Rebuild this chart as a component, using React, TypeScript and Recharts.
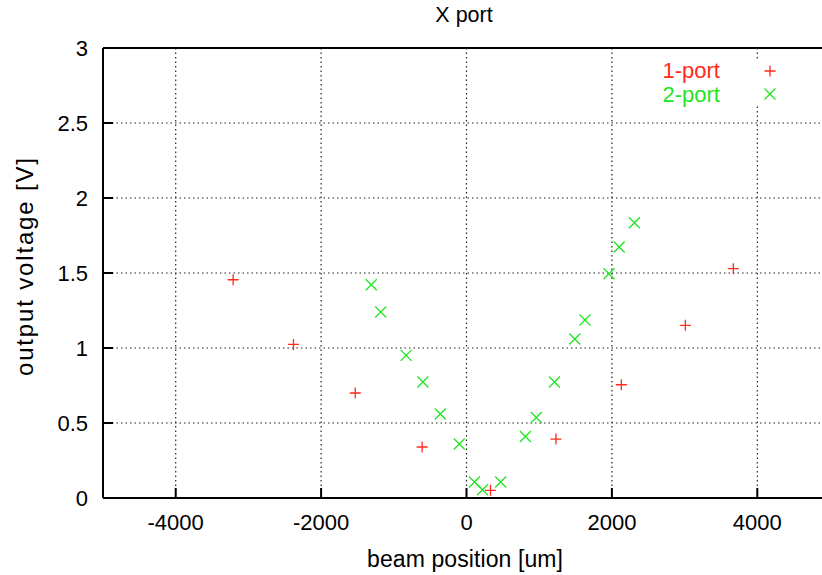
import { ScatterChart, Scatter, XAxis, YAxis, CartesianGrid } from "recharts";

// 1-port readings (beam position in um, output voltage in V)
const PORT1_X = [-3210, -2380, -1530, -610, 330, 1230, 2130, 3010, 3670];
const PORT1_Y = [1.455, 1.024, 0.70, 0.34, 0.051, 0.393, 0.755, 1.151, 1.529];

// 2-port readings
const PORT2_X = [-1310, -1180, -830, -600, -360, -100, 110, 220, 470, 810, 960, 1210, 1490, 1630, 1960, 2100, 2310];
const PORT2_Y = [1.422, 1.24, 0.951, 0.773, 0.56, 0.36, 0.107, 0.055, 0.107, 0.41, 0.537, 0.773, 1.06, 1.187, 1.495, 1.673, 1.835];

const X_TICKS = [-4000, -2000, 0, 2000, 4000];
const Y_TICKS = [0, 0.5, 1, 1.5, 2, 2.5, 3];

const RED = "#ff2a1a";
const GREEN = "#1ee61e";
const FONT = "'Liberation Sans', Arial, Helvetica, sans-serif";

const port1 = PORT1_X.map((x, i) => ({ x, y: PORT1_Y[i] }));
const port2 = PORT2_X.map((x, i) => ({ x, y: PORT2_Y[i] }));

function Plus(props: any) {
  const { cx, cy } = props;
  const r = 5.5;
  return (
    <path
      d={`M${cx - r},${cy}H${cx + r}M${cx},${cy - r}V${cy + r}`}
      stroke={RED}
      strokeWidth={1.3}
      fill="none"
    />
  );
}

function Cross(props: any) {
  const { cx, cy } = props;
  const r = 5.5;
  return (
    <path
      d={`M${cx - r},${cy - r}L${cx + r},${cy + r}M${cx - r},${cy + r}L${cx + r},${cy - r}`}
      stroke={GREEN}
      strokeWidth={1.3}
      fill="none"
    />
  );
}

const tickStyle = { fontSize: 22, fill: "#000", fontFamily: FONT };

export default function App() {
  return (
    <div
      style={{
        position: "absolute",
        left: 0,
        top: 0,
        width: 822,
        height: 575,
        overflow: "hidden",
        background: "#fff",
        fontFamily: FONT,
      }}
    >
      <ScatterChart width={840} height={575} margin={{ top: 0, right: 0, bottom: 0, left: 0 }}>
        <CartesianGrid stroke="#222" strokeDasharray="1.5 3" strokeWidth={1.2} />
        <XAxis
          type="number"
          dataKey="x"
          domain={[-5000, 5000]}
          ticks={X_TICKS}
          height={77}
          axisLine={{ stroke: "#000", strokeWidth: 2 }}
          tickLine={{ stroke: "#000", strokeWidth: 2 }}
          tickSize={-10}
          tickMargin={26}
          tick={tickStyle}
          label={{
            content: () => (
              <text
                x={465}
                y={567}
                textAnchor="middle"
                fontSize={23}
                fontFamily={FONT}
                fill="#000"
                textLength={196}
                lengthAdjust="spacing"
              >
                beam position [um]
              </text>
            ),
          }}
        />
        <XAxis
          xAxisId="top"
          orientation="top"
          type="number"
          domain={[-5000, 5000]}
          ticks={X_TICKS}
          height={48}
          allowDataOverflow
          axisLine={{ stroke: "#000", strokeWidth: 2 }}
          tickLine={{ stroke: "#000", strokeWidth: 2 }}
          tickSize={-10}
          tick={false}
        />
        <YAxis
          type="number"
          dataKey="y"
          domain={[0, 3]}
          ticks={Y_TICKS}
          width={103}
          axisLine={{ stroke: "#000", strokeWidth: 2 }}
          tickLine={{ stroke: "#000", strokeWidth: 2 }}
          tickSize={-10}
          tickMargin={25}
          tick={tickStyle}
          label={{
            content: () => (
              <text
                x={0}
                y={0}
                transform="translate(33,267) rotate(-90)"
                textAnchor="middle"
                fontSize={24}
                fontFamily={FONT}
                fill="#000"
                textLength={218}
                lengthAdjust="spacing"
              >
                output voltage [V]
              </text>
            ),
          }}
        />
        <YAxis
          yAxisId="right"
          orientation="right"
          type="number"
          domain={[0, 3]}
          ticks={Y_TICKS}
          width={10}
          allowDataOverflow
          axisLine={{ stroke: "#000", strokeWidth: 2 }}
          tickLine={{ stroke: "#000", strokeWidth: 2 }}
          tickSize={-10}
          tick={false}
        />
        <Scatter name="1-port" data={port1} shape={Plus} isAnimationActive={false} />
        <Scatter name="2-port" data={port2} shape={Cross} isAnimationActive={false} />
      </ScatterChart>

      <div
        style={{
          position: "absolute",
          left: 464,
          top: 0,
          transform: "translateX(-50%)",
          fontSize: 21.5,
          lineHeight: "30px",
          color: "#000",
          whiteSpace: "nowrap",
        }}
      >
        X port
      </div>

      <div
        style={{
          position: "absolute",
          left: 640,
          top: 59,
          width: 150,
          height: 47,
          background: "#fff",
        }}
      >
        {[
          { label: "1-port", color: RED, shape: "plus" },
          { label: "2-port", color: GREEN, shape: "cross" },
        ].map((item) => (
          <div key={item.label} style={{ display: "flex", alignItems: "center", height: 23.5 }}>
            <span
              style={{
                width: 80,
                textAlign: "right",
                fontSize: 22,
                lineHeight: "23.5px",
                color: item.color,
              }}
            >
              {item.label}
            </span>
            <svg width={20} height={20} style={{ marginLeft: 40 }}>
              {item.shape === "plus" ? <Plus cx={10} cy={10} /> : <Cross cx={10} cy={10} />}
            </svg>
          </div>
        ))}
      </div>
    </div>
  );
}
